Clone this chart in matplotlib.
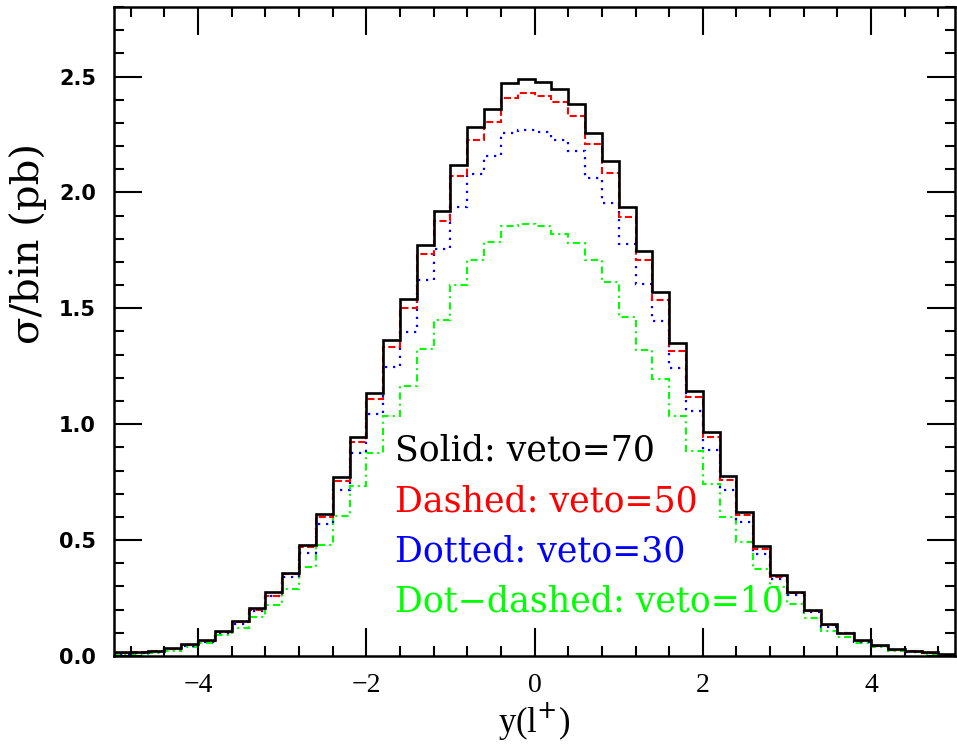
import numpy as np
from matplotlib import pyplot as plt
from matplotlib.ticker import MultipleLocator

plt.rcParams.update({"font.family": "DejaVu Serif",
                     "axes.linewidth": 1.8,
                     "xtick.direction": "in",
                     "ytick.direction": "in",
                     "xtick.top": True,
                     "ytick.right": True})

# 50 bins of 0.2 in y(l+) from -5 to 5
bin_edges = np.linspace(-5, 5, 51)

veto_70 = [0.015, 0.017, 0.022, 0.035, 0.050, 0.068, 0.107, 0.150, 0.207, 0.274,
           0.360, 0.478, 0.613, 0.772, 0.944, 1.136, 1.363, 1.539, 1.772, 1.921,
           2.119, 2.281, 2.359, 2.471, 2.489, 2.477, 2.448, 2.382, 2.258, 2.137,
           1.939, 1.746, 1.569, 1.349, 1.144, 0.967, 0.776, 0.620, 0.474, 0.350,
           0.278, 0.200, 0.136, 0.101, 0.068, 0.046, 0.028, 0.022, 0.015, 0.007]

veto_50 = [0.012, 0.015, 0.020, 0.032, 0.047, 0.064, 0.102, 0.145, 0.200, 0.259,
           0.353, 0.468, 0.600, 0.757, 0.924, 1.108, 1.334, 1.500, 1.733, 1.876,
           2.070, 2.225, 2.303, 2.409, 2.427, 2.418, 2.388, 2.330, 2.208, 2.085,
           1.893, 1.707, 1.537, 1.317, 1.118, 0.946, 0.759, 0.607, 0.462, 0.340,
           0.272, 0.194, 0.132, 0.098, 0.065, 0.044, 0.026, 0.020, 0.013, 0.006]

veto_30 = [0.010, 0.013, 0.018, 0.028, 0.042, 0.060, 0.099, 0.140, 0.193, 0.258,
           0.341, 0.446, 0.569, 0.714, 0.874, 1.042, 1.248, 1.399, 1.621, 1.757,
           1.936, 2.080, 2.159, 2.258, 2.270, 2.260, 2.225, 2.180, 2.064, 1.956,
           1.776, 1.604, 1.447, 1.243, 1.057, 0.888, 0.718, 0.576, 0.438, 0.330,
           0.265, 0.190, 0.125, 0.097, 0.062, 0.042, 0.025, 0.018, 0.012, 0.005]

veto_10 = [0.006, 0.009, 0.014, 0.022, 0.039, 0.058, 0.089, 0.121, 0.168, 0.222,
           0.288, 0.382, 0.478, 0.603, 0.734, 0.877, 1.037, 1.166, 1.326, 1.449,
           1.602, 1.710, 1.786, 1.857, 1.865, 1.854, 1.822, 1.782, 1.707, 1.615,
           1.464, 1.320, 1.193, 1.035, 0.886, 0.744, 0.600, 0.490, 0.377, 0.298,
           0.226, 0.165, 0.108, 0.082, 0.058, 0.039, 0.022, 0.015, 0.010, 0.004]

labels = ["Solid: veto=70", "Dashed: veto=50", "Dotted: veto=30",
          "Dot\u2212dashed: veto=10"]

series = [veto_70, veto_50, veto_30, veto_10]
colors = ["black", "#ff0000", "#0000ff", "#00ff00"]
styles = ["-", (0, (3.4, 1.6)), (0, (1, 2.6)), (0, (3.4, 2, 1, 2))]
widths = [1.9, 1.5, 1.6, 1.5]

fig = plt.figure(figsize=(9.57, 7.52), dpi=100)
ax = fig.add_axes([0.1191, 0.1277, 0.879, 0.863])

# draw the lower vetoes first so the solid line sits on top
for vals, c, ls, lw in reversed(list(zip(series, colors, styles, widths))):
    ax.stairs(vals, bin_edges, color=c, linestyle=ls, linewidth=lw)

for i, (txt, c) in enumerate(zip(labels, colors)):
    ax.text(-1.66, 0.885 - 0.217 * i, txt, color=c, fontsize=25,
            va="center", ha="left")

ax.set_xlim(-5, 5)
ax.set_ylim(0, 2.8)
ax.xaxis.set_major_locator(MultipleLocator(2))
ax.xaxis.set_minor_locator(MultipleLocator(0.4))
ax.yaxis.set_major_locator(MultipleLocator(0.5))
ax.yaxis.set_minor_locator(MultipleLocator(0.1))
ax.yaxis.set_major_formatter(lambda v, p: f"{v:.1f}")
ax.xaxis.set_major_formatter(lambda v, p: f"{v:.0f}".replace("-", "\u2212"))
ax.tick_params(which="major", length=20, width=1.5)
ax.tick_params(which="minor", length=7, width=1.5)
ax.tick_params(axis="x", labelsize=20, pad=12)
ax.tick_params(axis="y", labelsize=15, pad=13)
for lab in ax.get_xticklabels():
    lab.set_family("Liberation Serif")
for lab in ax.get_yticklabels():
    lab.set_family("DejaVu Sans")
    lab.set_weight("bold")

ax.set_xlabel("y(l$^{+}$)", fontsize=25, family="Liberation Serif", labelpad=2)
ax.set_ylabel("\u03c3/bin (pb)", fontsize=29)
# label sits above the middle of the axis in the original
ax.yaxis.set_label_coords(-0.080, 0.636)

fig.savefig("out.png", dpi=100)
